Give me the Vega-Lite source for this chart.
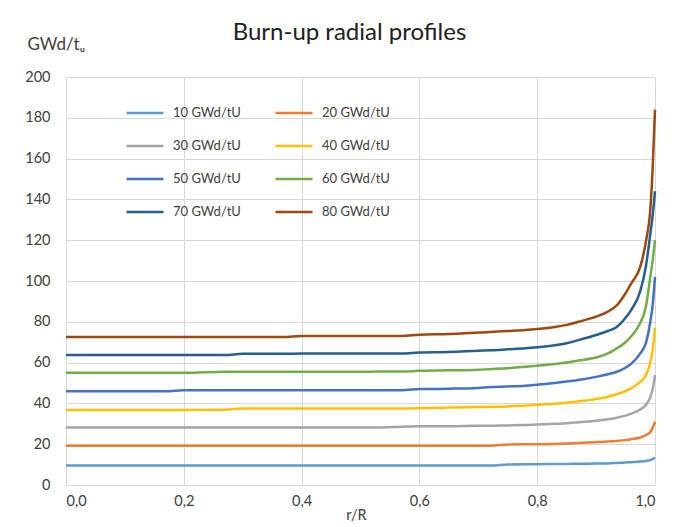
{
  "$schema": "https://vega.github.io/schema/vega-lite/v6.json",
  "width": 589,
  "height": 408,
  "autosize": "none",
  "padding": {"left": 66, "top": 77, "right": 18, "bottom": 42},
  "background": "white",
  "config": {
    "font": "Lato",
    "view": {"stroke": null},
    "axis": {"labelFont": "Lato", "titleFont": "Lato", "labelColor": "#404040", "titleColor": "#404040", "gridColor": "#D9D9D9", "domain": false, "ticks": false}
  },
  "title": {"text": "Burn-up radial profiles", "fontSize": 24, "fontWeight": "normal", "color": "#202020", "font": "Lato", "anchor": "middle", "dx": -11, "offset": -10},
  "data": {"values": [
    {"r": 0, "10 GWd/tU": 9.5, "20 GWd/tU": 19.3, "30 GWd/tU": 28.2, "40 GWd/tU": 36.8, "50 GWd/tU": 46, "60 GWd/tU": 55, "70 GWd/tU": 63.7, "80 GWd/tU": 72.5},
    {"r": 0.1, "10 GWd/tU": 9.5, "20 GWd/tU": 19.3, "30 GWd/tU": 28.2, "40 GWd/tU": 36.8, "50 GWd/tU": 46, "60 GWd/tU": 55, "70 GWd/tU": 63.7, "80 GWd/tU": 72.5},
    {"r": 0.17, "10 GWd/tU": 9.5, "20 GWd/tU": 19.3, "30 GWd/tU": 28.2, "40 GWd/tU": 36.8, "50 GWd/tU": 46, "60 GWd/tU": 55, "70 GWd/tU": 63.7, "80 GWd/tU": 72.5},
    {"r": 0.2, "10 GWd/tU": 9.5, "20 GWd/tU": 19.3, "30 GWd/tU": 28.2, "40 GWd/tU": 36.8, "50 GWd/tU": 46.5, "60 GWd/tU": 55, "70 GWd/tU": 63.7, "80 GWd/tU": 72.5},
    {"r": 0.27, "10 GWd/tU": 9.5, "20 GWd/tU": 19.3, "30 GWd/tU": 28.2, "40 GWd/tU": 36.9, "50 GWd/tU": 46.5, "60 GWd/tU": 55.5, "70 GWd/tU": 63.7, "80 GWd/tU": 72.5},
    {"r": 0.3, "10 GWd/tU": 9.5, "20 GWd/tU": 19.3, "30 GWd/tU": 28.2, "40 GWd/tU": 37.5, "50 GWd/tU": 46.5, "60 GWd/tU": 55.5, "70 GWd/tU": 64.3, "80 GWd/tU": 72.5},
    {"r": 0.37, "10 GWd/tU": 9.5, "20 GWd/tU": 19.3, "30 GWd/tU": 28.2, "40 GWd/tU": 37.5, "50 GWd/tU": 46.5, "60 GWd/tU": 55.5, "70 GWd/tU": 64.3, "80 GWd/tU": 72.5},
    {"r": 0.4, "10 GWd/tU": 9.5, "20 GWd/tU": 19.3, "30 GWd/tU": 28.2, "40 GWd/tU": 37.5, "50 GWd/tU": 46.5, "60 GWd/tU": 55.5, "70 GWd/tU": 64.4, "80 GWd/tU": 73},
    {"r": 0.5, "10 GWd/tU": 9.5, "20 GWd/tU": 19.3, "30 GWd/tU": 28.2, "40 GWd/tU": 37.5, "50 GWd/tU": 46.5, "60 GWd/tU": 55.5, "70 GWd/tU": 64.4, "80 GWd/tU": 73},
    {"r": 0.53, "10 GWd/tU": 9.5, "20 GWd/tU": 19.3, "30 GWd/tU": 28.2, "40 GWd/tU": 37.5, "50 GWd/tU": 46.5, "60 GWd/tU": 55.6, "70 GWd/tU": 64.5, "80 GWd/tU": 73},
    {"r": 0.57, "10 GWd/tU": 9.5, "20 GWd/tU": 19.3, "30 GWd/tU": 28.6, "40 GWd/tU": 37.5, "50 GWd/tU": 46.5, "60 GWd/tU": 55.6, "70 GWd/tU": 64.5, "80 GWd/tU": 73},
    {"r": 0.6, "10 GWd/tU": 9.5, "20 GWd/tU": 19.3, "30 GWd/tU": 28.8, "40 GWd/tU": 37.6, "50 GWd/tU": 47, "60 GWd/tU": 56, "70 GWd/tU": 65, "80 GWd/tU": 73.7},
    {"r": 0.65, "10 GWd/tU": 9.5, "20 GWd/tU": 19.3, "30 GWd/tU": 28.8, "40 GWd/tU": 38, "50 GWd/tU": 47.2, "60 GWd/tU": 56.2, "70 GWd/tU": 65.2, "80 GWd/tU": 74},
    {"r": 0.7, "10 GWd/tU": 9.5, "20 GWd/tU": 19.3, "30 GWd/tU": 29, "40 GWd/tU": 38.2, "50 GWd/tU": 47.6, "60 GWd/tU": 56.5, "70 GWd/tU": 65.8, "80 GWd/tU": 74.7},
    {"r": 0.72, "10 GWd/tU": 9.5, "20 GWd/tU": 19.3, "30 GWd/tU": 29, "40 GWd/tU": 38.3, "50 GWd/tU": 48, "60 GWd/tU": 56.8, "70 GWd/tU": 66, "80 GWd/tU": 75},
    {"r": 0.75, "10 GWd/tU": 10, "20 GWd/tU": 19.8, "30 GWd/tU": 29.2, "40 GWd/tU": 38.5, "50 GWd/tU": 48.3, "60 GWd/tU": 57.2, "70 GWd/tU": 66.5, "80 GWd/tU": 75.5},
    {"r": 0.78, "10 GWd/tU": 10.2, "20 GWd/tU": 20, "30 GWd/tU": 29.4, "40 GWd/tU": 39, "50 GWd/tU": 48.7, "60 GWd/tU": 58, "70 GWd/tU": 67, "80 GWd/tU": 76},
    {"r": 0.8, "10 GWd/tU": 10.2, "20 GWd/tU": 20, "30 GWd/tU": 29.6, "40 GWd/tU": 39.3, "50 GWd/tU": 49.2, "60 GWd/tU": 58.5, "70 GWd/tU": 67.5, "80 GWd/tU": 76.5},
    {"r": 0.83, "10 GWd/tU": 10.3, "20 GWd/tU": 20.1, "30 GWd/tU": 30, "40 GWd/tU": 39.8, "50 GWd/tU": 50, "60 GWd/tU": 59.3, "70 GWd/tU": 68.5, "80 GWd/tU": 77.5},
    {"r": 0.85, "10 GWd/tU": 10.3, "20 GWd/tU": 20.3, "30 GWd/tU": 30.3, "40 GWd/tU": 40.3, "50 GWd/tU": 50.7, "60 GWd/tU": 60, "70 GWd/tU": 69.5, "80 GWd/tU": 78.5},
    {"r": 0.87, "10 GWd/tU": 10.4, "20 GWd/tU": 20.6, "30 GWd/tU": 30.8, "40 GWd/tU": 41, "50 GWd/tU": 51.5, "60 GWd/tU": 61, "70 GWd/tU": 71, "80 GWd/tU": 80},
    {"r": 0.9, "10 GWd/tU": 10.5, "20 GWd/tU": 21, "30 GWd/tU": 31.5, "40 GWd/tU": 42.2, "50 GWd/tU": 53, "60 GWd/tU": 62.5, "70 GWd/tU": 73.5, "80 GWd/tU": 82.5},
    {"r": 0.92, "10 GWd/tU": 10.6, "20 GWd/tU": 21.3, "30 GWd/tU": 32.2, "40 GWd/tU": 43.3, "50 GWd/tU": 54.3, "60 GWd/tU": 64.5, "70 GWd/tU": 75.5, "80 GWd/tU": 85},
    {"r": 0.935, "10 GWd/tU": 10.8, "20 GWd/tU": 21.6, "30 GWd/tU": 33, "40 GWd/tU": 44.5, "50 GWd/tU": 55.5, "60 GWd/tU": 67, "70 GWd/tU": 77.5, "80 GWd/tU": 88},
    {"r": 0.95, "10 GWd/tU": 11, "20 GWd/tU": 22, "30 GWd/tU": 34, "40 GWd/tU": 46, "50 GWd/tU": 57.5, "60 GWd/tU": 70, "70 GWd/tU": 82, "80 GWd/tU": 94},
    {"r": 0.96, "10 GWd/tU": 11.2, "20 GWd/tU": 22.5, "30 GWd/tU": 35, "40 GWd/tU": 47.5, "50 GWd/tU": 59.5, "60 GWd/tU": 73, "70 GWd/tU": 86, "80 GWd/tU": 99},
    {"r": 0.975, "10 GWd/tU": 11.5, "20 GWd/tU": 23.3, "30 GWd/tU": 37, "40 GWd/tU": 50.5, "50 GWd/tU": 64.5, "60 GWd/tU": 79.5, "70 GWd/tU": 95, "80 GWd/tU": 107},
    {"r": 0.985, "10 GWd/tU": 11.8, "20 GWd/tU": 24.5, "30 GWd/tU": 39.5, "40 GWd/tU": 54, "50 GWd/tU": 70, "60 GWd/tU": 88, "70 GWd/tU": 108, "80 GWd/tU": 120},
    {"r": 0.992, "10 GWd/tU": 12.2, "20 GWd/tU": 26, "30 GWd/tU": 43, "40 GWd/tU": 60, "50 GWd/tU": 80, "60 GWd/tU": 102, "70 GWd/tU": 123, "80 GWd/tU": 135},
    {"r": 0.996, "10 GWd/tU": 12.7, "20 GWd/tU": 28, "30 GWd/tU": 47, "40 GWd/tU": 66, "50 GWd/tU": 88, "60 GWd/tU": 110, "70 GWd/tU": 132, "80 GWd/tU": 155},
    {"r": 1.0, "10 GWd/tU": 13.5, "20 GWd/tU": 31, "30 GWd/tU": 54, "40 GWd/tU": 77, "50 GWd/tU": 102, "60 GWd/tU": 120, "70 GWd/tU": 144, "80 GWd/tU": 184}
  ]},
  "transform": [
    {"fold": ["10 GWd/tU", "20 GWd/tU", "30 GWd/tU", "40 GWd/tU", "50 GWd/tU", "60 GWd/tU", "70 GWd/tU", "80 GWd/tU"], "as": ["series", "v"]}
  ],
  "mark": {"type": "line", "strokeWidth": 2.5, "interpolate": "monotone"},
  "encoding": {
    "x": {"field": "r", "type": "quantitative", "scale": {"domain": [0, 1], "nice": false},
      "axis": {"values": [0, 0.2, 0.4, 0.6, 0.8, 1.0], "labelExpr": "replace(format(datum.value, '.1f'), '.', ',')", "labelFontSize": 14.5, "labelPadding": 9, "title": "r/R", "titleFontSize": 14.5, "titleFontWeight": "normal", "titlePadding": 1, "titleX": 290}},
    "y": {"field": "v", "type": "quantitative", "scale": {"domain": [0, 200], "nice": false},
      "axis": {"values": [0, 20, 40, 60, 80, 100, 120, 140, 160, 180, 200], "labelFontSize": 14.5, "labelPadding": 16, "title": "GWd/tᵤ", "titleAngle": 0, "titleFontSize": 17, "titleFontWeight": "normal", "titleAlign": "left", "titleBaseline": "middle", "titleX": -39, "titleY": -33}},
    "color": {"field": "series", "type": "nominal",
      "scale": {"domain": ["10 GWd/tU", "20 GWd/tU", "30 GWd/tU", "40 GWd/tU", "50 GWd/tU", "60 GWd/tU", "70 GWd/tU", "80 GWd/tU"],
                "range": ["#5B9BD5", "#ED7D31", "#A5A5A5", "#FFC000", "#4472C4", "#70AD47", "#255E91", "#9E480E"]},
      "legend": {"orient": "none", "legendX": 59, "legendY": 16, "columns": 2, "direction": "horizontal", "title": null, "symbolType": "stroke", "symbolSize": 1369, "symbolStrokeWidth": 2.5, "labelFontSize": 13, "labelColor": "#404040", "labelOffset": 8, "columnPadding": 29, "rowPadding": 6, "labelFont": "Lato"}}
  }
}
